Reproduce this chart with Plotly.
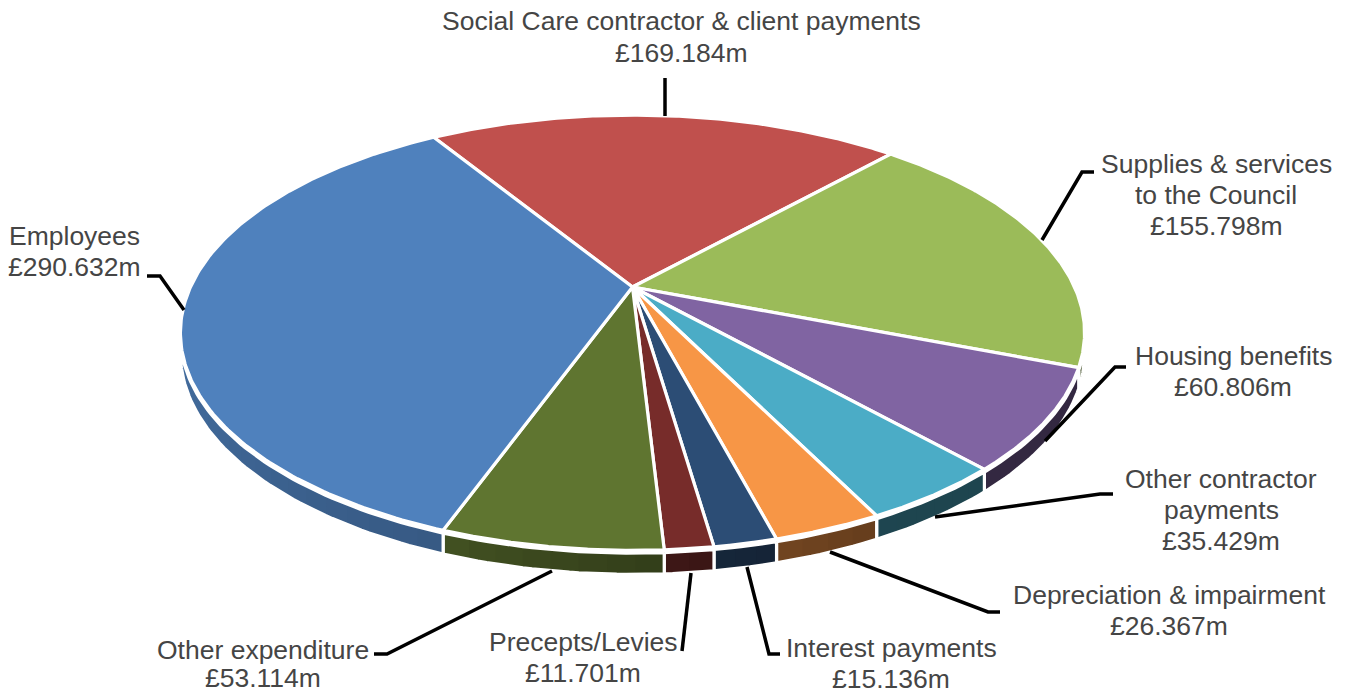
import numpy as np
import plotly.graph_objects as go

# Expenditure by category, in £m, clockwise from the start angle
categories = [
    "Social Care contractor & client payments",
    "Supplies & services to the Council",
    "Housing benefits",
    "Other contractor payments",
    "Depreciation & impairment",
    "Interest payments",
    "Precepts/Levies",
    "Other expenditure",
    "Employees",
]
values = [169.184, 155.798, 60.806, 35.429, 26.367, 15.136, 11.701, 53.114, 290.632]
top_colours = ["#C0504D", "#9BBB59", "#8064A2", "#4BACC6", "#F79646",
               "#2C4D75", "#772C2A", "#5F7530", "#4F81BD"]

# Label text, one list per slice, with each line's centre on the page
label_lines = [
    ["Social Care contractor & client payments", "£169.184m"],
    ["Supplies & services", "to the Council", "£155.798m"],
    ["Housing benefits", "£60.806m"],
    ["Other contractor", "payments", "£35.429m"],
    ["Depreciation & impairment", "£26.367m"],
    ["Interest payments", "£15.136m"],
    ["Precepts/Levies", "£11.701m"],
    ["Other expenditure", "£53.114m"],
    ["Employees", "£290.632m"],
]
label_x = [681, 1216, 1233, 1221, 1169, 891, 583, 263, 74]
label_y = [[21, 53], [164, 195, 226], [356, 387], [479, 510, 541],
           [595, 626], [648, 679], [642, 673], [650, 678], [236, 267]]

# Leader line routes as (x, y) vertices
leader_x = [[665, 665], [1094, 1082, 1042], [1126, 1115, 1045], [1113, 1100, 935],
            [1000, 988, 830], [780, 769, 747], [682, 691], [374, 387, 552], [147, 160, 184]]
leader_y = [[78, 116], [172, 172, 240], [367, 367, 441], [494, 494, 517],
            [612, 612, 552], [654, 654, 567], [651, 573], [654, 654, 571], [276, 276, 310]]

# Projection of the tilted disc onto the page
START_DEG = 328.0
CX, CY = 632.5, 287.0
RADIUS_X = 442.0
RADIUS_Y = 208.0
PERSPECTIVE = 0.21
DEPTH = 16.8
EDGE_GAP = 2.8
STROKE = 3.2


def project(theta_deg):
    t = np.radians(theta_deg)
    u, v = np.sin(t), np.cos(t)
    s = 1.0 / (1.0 + PERSPECTIVE * v)
    return CX + RADIUS_X * u * s, CY - RADIUS_Y * v * s, s


def side_shade(theta_deg):
    # Rim lighting: darkest on the lower right, brightening towards the left
    a = ((theta_deg % 360) + 360) % 360
    return np.interp(a, [110, 150, 172, 190, 200, 260, 300],
                     [0.40, 0.40, 0.50, 0.63, 0.70, 0.85, 0.88])


def shaded(hex_colour, factor):
    r, g, b = (int(hex_colour[i:i + 2], 16) for i in (1, 3, 5))
    return f"rgb({r * factor:.0f},{g * factor:.0f},{b * factor:.0f})"


def rim_polygon(a0, a1):
    th = np.linspace(a0, a1, max(6, int(a1 - a0) + 2))
    x, y, s = project(th)
    px = np.concatenate([x, x[::-1], x[:1]])
    py = np.concatenate([y + EDGE_GAP, (y + DEPTH * s + EDGE_GAP)[::-1], y[:1] + EDGE_GAP])
    return px, py


spans = np.array(values) / sum(values) * 360.0
starts = START_DEG + np.concatenate([[0.0], np.cumsum(spans)[:-1]])

fig = go.Figure()

# Rim of the disc. Each shading band runs on to the slice's far end and is overpainted
# by the next, which leaves no seams between the bands.
for start, span, colour in zip(starts, spans, top_colours):
    end = start + span
    for a0 in np.linspace(start, end, max(2, int(span / 3) + 2))[:-1]:
        px, py = rim_polygon(a0, end)
        fig.add_trace(go.Scatter(x=px, y=py, mode="lines", fill="toself",
                                 fillcolor=shaded(colour, float(side_shade(a0))),
                                 line=dict(width=0), hoverinfo="skip"))
    px, py = rim_polygon(start, end)
    fig.add_trace(go.Scatter(x=px, y=py, mode="lines", line=dict(color="white", width=STROKE),
                             hoverinfo="skip"))

# Top faces of the slices
for name, start, span, colour in zip(categories, starts, spans, top_colours):
    th = np.linspace(start, start + span, 160)
    x, y, _ = project(th)
    fig.add_trace(go.Scatter(
        x=np.concatenate([[CX], x, [CX]]), y=np.concatenate([[CY], y, [CY]]),
        mode="lines", fill="toself", fillcolor=colour,
        line=dict(color="white", width=STROKE), name=name, hoverinfo="skip"))

# Leader lines
for lx, ly in zip(leader_x, leader_y):
    fig.add_trace(go.Scatter(x=lx, y=ly, mode="lines", line=dict(color="black", width=3.5),
                             hoverinfo="skip"))

# Labels, one annotation per text line to hold the tight leading
for lines, cx, ys in zip(label_lines, label_x, label_y):
    for text, y in zip(lines, ys):
        fig.add_annotation(x=cx, y=y, text=text, showarrow=False, xanchor="center", yanchor="middle",
                           font=dict(family="Liberation Sans, Arial, sans-serif", size=26.5, color="#454545"))

fig.update_layout(
    width=1350, height=693, margin=dict(l=0, r=0, t=0, b=0),
    paper_bgcolor="white", plot_bgcolor="white", showlegend=False, hovermode=False,
    xaxis=dict(range=[0, 1350], visible=False, fixedrange=True),
    yaxis=dict(range=[693, 0], visible=False, fixedrange=True),
)
fig.write_html("out.html", config=dict(displayModeBar=False))
